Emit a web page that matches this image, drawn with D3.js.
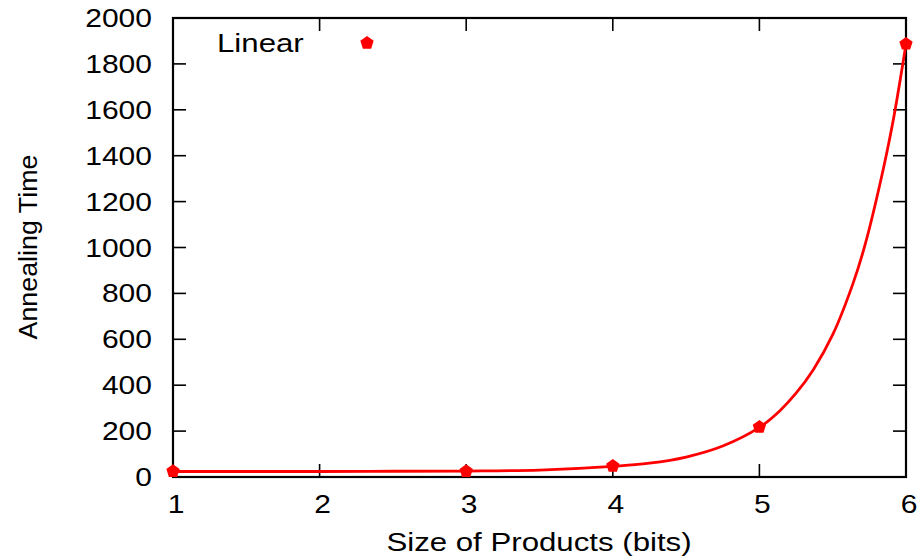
<!DOCTYPE html>
<html>
<head>
<meta charset="utf-8">
<script src="https://cdn.jsdelivr.net/npm/d3@7"></script>
<style>
  body { margin: 0; background: #fff; }
  svg { display: block; font-family: "Liberation Sans", Arial, sans-serif; }
</style>
</head>
<body>
<div id="chart"></div>
<script>
// measured points
const sizes = [1, 3, 4, 5, 6];
const times = [25, 25, 48, 218, 1887];

// fitted curve, values
const fitSizes = [1, 2, 2.5, 3, 3.5, 4, 4.25, 4.5, 4.75, 5, 5.14, 5.25, 5.37, 5.5, 5.64, 5.72, 5.82, 5.91, 6];
const fitTimes = [24, 24, 25, 26, 30, 46, 60, 87, 135, 216, 289, 365, 470, 620, 846, 1010, 1270, 1545, 1887];

const xTicks = [1, 2, 3, 4, 5, 6];
const yTicks = [0, 200, 400, 600, 800, 1000, 1200, 1400, 1600, 1800, 2000];

const svgWidth = 919, svgHeight = 558;
const margin = {top: 18, right: 13, bottom: 81, left: 173};
const width = svgWidth - margin.left - margin.right;
const height = svgHeight - margin.top - margin.bottom;
const red = '#ff0000';
const stretchX = 1.2; // text in the picture is a bit wider than the font

const svg = d3.select('#chart').append('svg')
    .attr('width', svgWidth)
    .attr('height', svgHeight);

const g = svg.append('g').attr('transform', `translate(${margin.left},${margin.top})`);

const xScale = d3.scaleLinear().domain([1, 6]).range([0, width]);
const yScale = d3.scaleLinear().domain([0, 2000]).range([height, 0]);

// widen text horizontally
function stretch(sel) {
    sel.each(function() {
        const len = this.getComputedTextLength();
        d3.select(this)
            .attr('textLength', len * stretchX)
            .attr('lengthAdjust', 'spacingAndGlyphs');
    });
}

// ticks, mirrored on all four sides, pointing inward
const tickLen = 13;
const ticks = g.append('g').attr('class', 'ticks').attr('stroke', '#000').attr('stroke-width', 1.6);
xTicks.forEach(t => {
    const x = xScale(t);
    ticks.append('line').attr('x1', x).attr('x2', x).attr('y1', height).attr('y2', height - tickLen);
    ticks.append('line').attr('x1', x).attr('x2', x).attr('y1', 0).attr('y2', tickLen);
});
yTicks.forEach(t => {
    const y = yScale(t);
    ticks.append('line').attr('x1', 0).attr('x2', tickLen).attr('y1', y).attr('y2', y);
    ticks.append('line').attr('x1', width).attr('x2', width - tickLen).attr('y1', y).attr('y2', y);
});

// tick labels
g.append('g').selectAll('text').data(xTicks).enter().append('text')
    .attr('x', d => xScale(d) + 3)
    .attr('y', height + 36)
    .attr('text-anchor', 'middle')
    .style('font-size', '25px')
    .text(d => d)
    .call(stretch);

g.append('g').selectAll('text').data(yTicks).enter().append('text')
    .attr('x', -21)
    .attr('y', d => yScale(d) + 9)
    .attr('text-anchor', 'end')
    .style('font-size', '25px')
    .text(d => d)
    .call(stretch);

// frame
g.append('rect')
    .attr('width', width).attr('height', height)
    .attr('fill', 'none').attr('stroke', '#000').attr('stroke-width', 2.2);

// fitted curve
const line = d3.line()
    .x((d, i) => xScale(fitSizes[i]))
    .y(d => yScale(d))
    .curve(d3.curveCatmullRom.alpha(0.5));

g.append('path')
    .datum(fitTimes)
    .attr('d', line)
    .attr('fill', 'none')
    .attr('stroke', red)
    .attr('stroke-width', 2.8);

// pentagon marker
function pentagon(r) {
    const pts = d3.range(5).map(i => {
        const a = -Math.PI / 2 + i * 2 * Math.PI / 5;
        return [r * Math.cos(a), r * Math.sin(a)];
    });
    return 'M' + pts.join('L') + 'Z';
}

g.append('g').selectAll('path').data(times).enter().append('path')
    .attr('d', pentagon(7))
    .attr('transform', (d, i) => `translate(${xScale(sizes[i])},${yScale(d)})`)
    .attr('fill', red);

// legend
svg.append('text')
    .attr('x', 217).attr('y', 52)
    .style('font-size', '26px')
    .text('Linear')
    .call(stretch);
svg.append('path')
    .attr('d', pentagon(7))
    .attr('transform', 'translate(367,43)')
    .attr('fill', red);

// axis titles
svg.append('text')
    .attr('x', 539).attr('y', 551)
    .attr('text-anchor', 'middle')
    .style('font-size', '26px')
    .text('Size of Products (bits)')
    .call(stretch);

svg.append('text')
    .attr('transform', 'translate(37,247) rotate(-90)')
    .attr('text-anchor', 'middle')
    .style('font-size', '26px')
    .attr('textLength', 185)
    .attr('lengthAdjust', 'spacingAndGlyphs')
    .text('Annealing Time');
</script>
</body>
</html>
